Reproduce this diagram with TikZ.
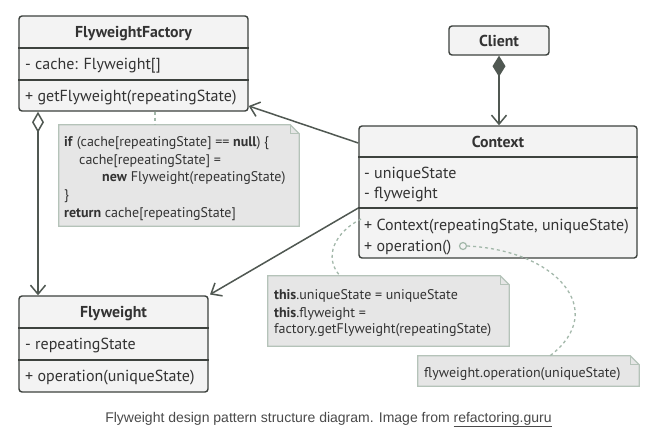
\documentclass[tikz,border=0pt]{standalone}
\usepackage{fontspec}
\setmainfont{PT Sans}
\newfontfamily\capfont{Liberation Sans}
\usetikzlibrary{arrows.meta}
\definecolor{boxc}{HTML}{3D423E}
\definecolor{boxf}{HTML}{F3F3F3}
\definecolor{conn}{HTML}{505852}
\definecolor{notef}{HTML}{E6E6E6}
\definecolor{notec}{HTML}{B5C3B9}
\definecolor{linkc}{HTML}{A3B8AA}
\definecolor{txtc}{HTML}{333333}
\definecolor{capc}{HTML}{4A4A4A}
\tikzset{
  cls/.style={draw=boxc, fill=boxf, line width=1.4pt, rounded corners=3pt, inner sep=0pt, rectangle},
  divl/.style={draw=boxc, line width=1.4pt},
  hdr/.style={font=\fontsize{15.8}{18}\selectfont\bfseries, text=txtc, inner sep=0pt, anchor=base},
  mem/.style={font=\fontsize{16}{18}\selectfont, text=txtc, inner sep=0pt, anchor=base west},
  ntx/.style={font=\fontsize{14}{16}\selectfont, text=txtc, inner sep=0pt, anchor=base west},
  notebox/.style={inner sep=0pt, rectangle},
  notedraw/.style={draw=notec, fill=notef, line width=1.2pt},
  conline/.style={draw=conn, line width=1.5pt},
  openhead/.style={-{Straight Barb[length=9pt,width=15pt,line width=1.5pt]}},
  link/.style={draw=linkc, line width=1.3pt, dash pattern=on 3pt off 3pt},
}
\newcommand{\notefold}[1]{%
  \path[notedraw] (#1.north west) -- ([xshift=-9pt]#1.north east) -- ([yshift=-9pt]#1.north east) -- (#1.south east) -- (#1.south west) -- cycle;
  \draw[draw=notec, line width=1.2pt] ([xshift=-9pt]#1.north east) -- ([xshift=-9pt,yshift=-9pt]#1.north east) -- ([yshift=-9pt]#1.north east);}
\begin{document}
\begin{tikzpicture}[x=1pt,y=-1pt]
\useasboundingbox[fill=white] (0,0) rectangle (658,439);

% ---------- FlyweightFactory ----------
\node[cls, minimum width=229pt, minimum height=95pt] (ff) at (133.5,63.5) {};
\draw[divl] (ff.west |- 0,48) -- (ff.east |- 0,48);
\draw[divl] (ff.west |- 0,80) -- (ff.east |- 0,80);
\node[hdr] (ffh) at (133.5,37.5) {FlyweightFactory};
\node[mem] (ffa) at (25,69) {- cache: Flyweight[]};
\node[mem] (ffm) at (25,101.5) {+ getFlyweight(repeatingState)};

% ---------- Client ----------
\node[cls, minimum width=100pt, minimum height=29pt] (cl) at (499,40.5) {};
\node[hdr] (clh) at (499,46.5) {Client};

% ---------- Context ----------
\node[cls, minimum width=278pt, minimum height=132pt] (ctx) at (498,192) {};
\draw[divl] (ctx.west |- 0,157) -- (ctx.east |- 0,157);
\draw[divl] (ctx.west |- 0,208) -- (ctx.east |- 0,208);
\node[hdr] (ctxh) at (498,147.5) {Context};
\node[mem] (ctxa1) at (364,178.5) {- uniqueState};
\node[mem] (ctxa2) at (364,198.5) {- flyweight};
\node[mem] (ctxm1) at (364,230) {+ Context(repeatingState, uniqueState)};
\node[mem] (ctxm2) at (364,251) {+ operation()};

% ---------- Flyweight ----------
\node[cls, minimum width=189pt, minimum height=96pt] (fw) at (113.5,344) {};
\draw[divl] (fw.west |- 0,328) -- (fw.east |- 0,328);
\draw[divl] (fw.west |- 0,360) -- (fw.east |- 0,360);
\node[hdr] (fwh) at (113.5,317.5) {Flyweight};
\node[mem] (fwa) at (25,349.5) {- repeatingState};
\node[mem] (fwm) at (25,381.5) {+ operation(uniqueState)};

% ---------- Notes ----------
\node[notebox, minimum width=240pt, minimum height=101pt] (n1) at (179,175.5) {};
\notefold{n1}
\node[ntx] at (64,146) {\textbf{if} (cache[repeatingState] == \textbf{null}) \{};
\node[ntx] at (79,164) {cache[repeatingState] =};
\node[ntx] at (102,181) {\textbf{new} Flyweight(repeatingState)};
\node[ntx] at (64,199) {\}};
\node[ntx] at (64,217) {\textbf{return} cache[repeatingState]};

\node[notebox, minimum width=241pt, minimum height=70pt] (n2) at (388.5,311) {};
\notefold{n2}
\node[ntx] at (274,299) {\textbf{this}.uniqueState = uniqueState};
\node[ntx] at (274,317) {\textbf{this}.flyweight =};
\node[ntx] at (274,333) {factory.getFlyweight(repeatingState)};

\node[notebox, minimum width=221pt, minimum height=30pt] (n3) at (528.5,371) {};
\notefold{n3}
\node[ntx] at (424,377) {flyweight.operation(uniqueState)};

% ---------- note links ----------
\draw[link] (ff.south -| 155,0) -- (n1.north -| 155,0);
\coordinate (l2s) at (361,219);
\draw[link] (l2s) .. controls (335,232) and (323,257) .. (n2.north -| 340,0);
\node[circle, draw=linkc, fill=boxf, line width=1.2pt, minimum size=7pt, inner sep=0pt] (opc) at (463,246) {};
\draw[link] (opc.east) .. controls (555,250) and (610,310) .. (n3.north -| 550,0);

% ---------- connectors ----------
\draw[conline, {Diamond[open,length=21pt,width=12pt,line width=1.5pt]}-{Straight Barb[length=9pt,width=15pt,line width=1.5pt]}]
  (ff.south -| 38,0) -- (fw.north -| 38,0);
\draw[conline, {Diamond[fill=conn,length=21pt,width=13pt]}-{Straight Barb[length=9pt,width=15pt,line width=1.5pt]}]
  (cl.south) -- (ctx.north -| cl.south);
\draw[conline, openhead] (ctx.west |- 0,143) -- (ff.east |- 0,106);
\draw[conline, openhead] (ctx.west |- 0,208) -- (210,294.5);

% ---------- caption ----------
\node[font=\capfont\fontsize{14}{16}\selectfont, text=capc, inner sep=0pt, anchor=base] (cap) at (328.5,422)
  {Flyweight design pattern structure diagram. Image from \underline{refactoring.guru}};
\end{tikzpicture}
\end{document}
